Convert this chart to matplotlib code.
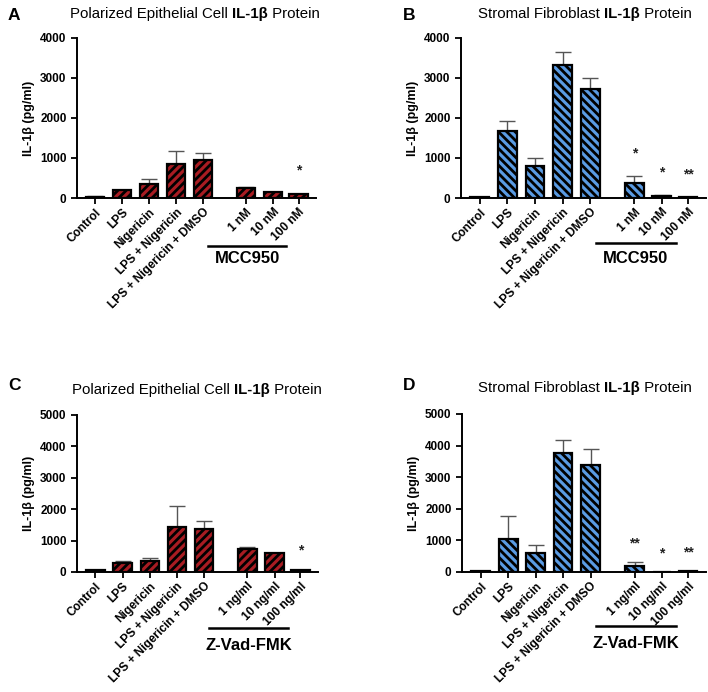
import numpy as np
import matplotlib.pyplot as plt

plt.rcParams['font.family'] = ['Liberation Sans', 'DejaVu Sans']
plt.rcParams['hatch.linewidth'] = 2.0

base_labels = ["Control", "LPS", "Nigericin", "LPS + Nigericin", "LPS + Nigericin + DMSO"]
mcc_doses = ["1 nM", "10 nM", "100 nM"]
zvad_doses = ["1 ng/ml", "10 ng/ml", "100 ng/ml"]

# panel A: epithelial, MCC950
a_mean = [30, 200, 360, 860, 950, 250, 150, 100]
a_err = [10, 10, 120, 310, 170, 15, 10, 10]
a_stars = ["", "", "", "", "", "", "", "*"]

# panel B: fibroblast, MCC950
b_mean = [20, 1670, 800, 3320, 2720, 380, 60, 20]
b_err = [5, 255, 210, 330, 290, 180, 20, 5]
b_stars = ["", "", "", "", "", "*", "*", "**"]

# panel C: epithelial, Z-Vad-FMK
c_mean = [50, 280, 340, 1440, 1380, 730, 590, 60]
c_err = [10, 60, 110, 660, 240, 60, 10, 10]
c_stars = ["", "", "", "", "", "", "", "*"]

# panel D: fibroblast, Z-Vad-FMK
d_mean = [40, 1050, 610, 3770, 3380, 190, 0, 20]
d_err = [5, 730, 260, 420, 510, 120, 0, 5]
d_stars = ["", "", "", "", "", "**", "*", "**"]

RED = "#a81c22"
BLUE = "#5a9be3"
x = np.array([0, 1, 2, 3, 4, 5.6, 6.6, 7.55])

fig = plt.figure(figsize=(7.08, 6.92), dpi=100)
W, H = 708, 692


def make_ax(left, right, top, bottom):
    return fig.add_axes([left / W, 1 - bottom / H, (right - left) / W, (bottom - top) / H])


def panel(ax, means, errs, stars, doses, ymax, color, hatch, group, line_y, text_y, star_off):
    ax.bar(x, means, width=0.68, color=color, edgecolor="black", linewidth=1.6,
           hatch=hatch, zorder=2)
    ax.errorbar(x, means, yerr=[np.zeros(len(errs)), errs], fmt="none",
                ecolor="#555555", elinewidth=1.0, capsize=6, capthick=1.0, zorder=1)
    for xi, m, e, s in zip(x, means, errs, stars):
        if s:
            ax.text(xi, m + e + star_off, s, ha="center", va="bottom",
                    fontsize=10, fontweight="bold", color="#222222")
    ax.set_xlim(-0.68, 8.2)
    ax.set_ylim(0, ymax)
    ax.set_yticks(np.arange(0, ymax + 1, 1000))
    ax.set_xticks(x)
    ax.set_xticklabels(base_labels + doses, rotation=45, ha="right",
                       rotation_mode="anchor", fontsize=8.6, fontweight="bold")
    for t in ax.get_yticklabels():
        t.set_fontweight("bold")
        t.set_fontsize(8.5)
    ax.tick_params(axis="both", width=1.3, length=4)
    ax.tick_params(axis="x", pad=2)
    ax.set_ylabel("IL-1β (pg/ml)", fontsize=9, fontweight="bold")
    for sp in ["top", "right"]:
        ax.spines[sp].set_visible(False)
    for sp in ["left", "bottom"]:
        ax.spines[sp].set_linewidth(1.4)
    ax.plot([4.2, 7.1], [line_y, line_y], color="black", linewidth=1.8,
            transform=ax.get_xaxis_transform(), clip_on=False)
    ax.text(5.65, text_y, group, ha="center", va="center", fontsize=12,
            fontweight="bold", transform=ax.get_xaxis_transform())


axA = make_ax(77, 316, 38, 198)
axB = make_ax(461, 706, 38, 198)
axC = make_ax(77, 318, 415, 572)
axD = make_ax(462, 706, 414, 572)

specs = [
    (axA, a_mean, a_err, a_stars, mcc_doses, 4000, RED, "////", "MCC950", -0.30, -0.375, 400,
     "Polarized Epithelial Cell ", "A", 8, 15, 195, 14),
    (axB, b_mean, b_err, b_stars, mcc_doses, 4000, BLUE, "\\\\\\\\", "MCC950", -0.28, -0.375, 380,
     "Stromal Fibroblast ", "B", 403, 16, 585, 14),
    (axC, c_mean, c_err, c_stars, zvad_doses, 5000, RED, "////", "Z-Vad-FMK", -0.357, -0.465, 380,
     "Polarized Epithelial Cell ", "C", 8, 385, 197, 390),
    (axD, d_mean, d_err, d_stars, zvad_doses, 5000, BLUE, "\\\\\\\\", "Z-Vad-FMK", -0.34, -0.45, 380,
     "Stromal Fibroblast ", "D", 403, 385, 585, 388),
]

titles = []
for (ax, m, e, s, doses, ymax, col, hatch, group, ly, ty, so,
     cell, letter, lx, lyy, tx, tyy) in specs:
    panel(ax, m, e, s, doses, ymax, col, hatch, group, ly, ty, so)
    fig.text(lx / W, 1 - lyy / H, letter, fontsize=12.5, fontweight="bold",
             ha="left", va="center")
    # title with bold "IL-1β" in the middle
    t1 = fig.text(tx / W, 1 - tyy / H, cell, fontsize=10.8, ha="left", va="center")
    t2 = fig.text(tx / W, 1 - tyy / H, "IL-1β", fontsize=10.8, fontweight="bold",
                  ha="left", va="center")
    t3 = fig.text(tx / W, 1 - tyy / H, " Protein", fontsize=10.8, ha="left", va="center")
    titles.append((tx, t1, t2, t3))

# place the title pieces next to each other, centred on tx
fig.canvas.draw()
r = fig.canvas.get_renderer()
for tx, t1, t2, t3 in titles:
    w1 = t1.get_window_extent(r).width
    w2 = t2.get_window_extent(r).width
    w3 = t3.get_window_extent(r).width
    start = tx - (w1 + w2 + w3) / 2
    t1.set_x(start / W)
    t2.set_x((start + w1) / W)
    t3.set_x((start + w1 + w2) / W)

fig.savefig("out.png", dpi=100)
